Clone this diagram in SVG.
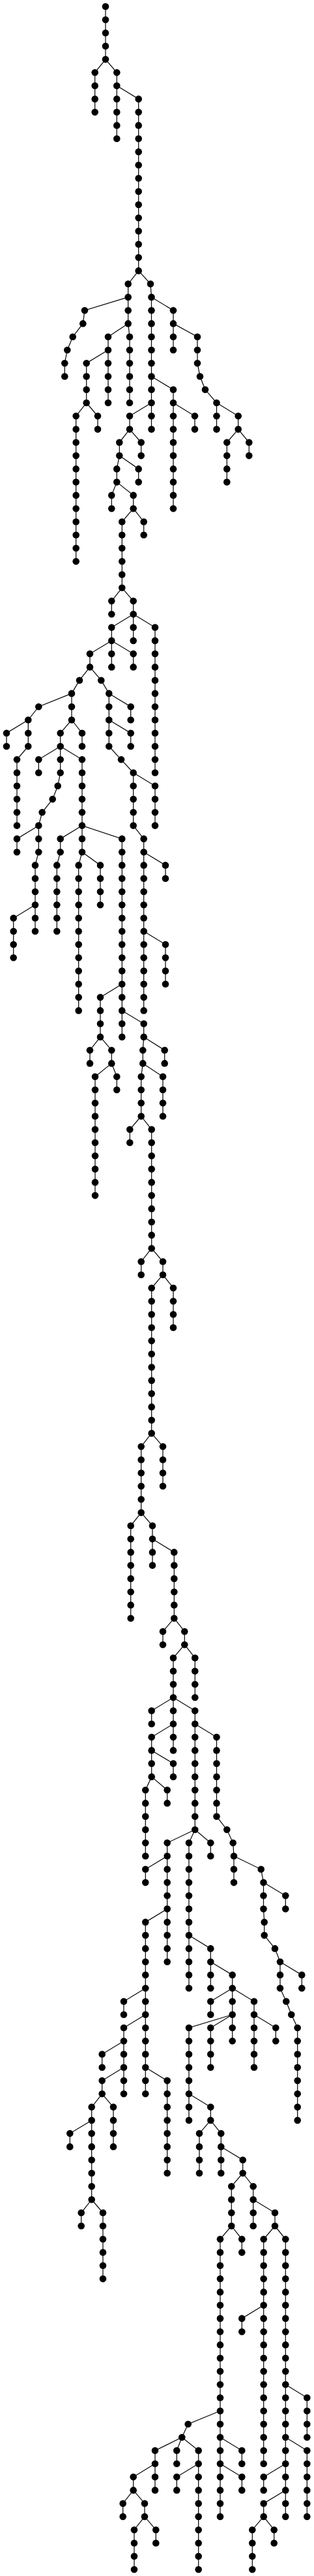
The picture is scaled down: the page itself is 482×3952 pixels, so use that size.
<svg xmlns="http://www.w3.org/2000/svg" width="482" height="3952" viewBox="0 0 482 3952">
<style>
.e polyline{fill:none;stroke:#000;stroke-width:1.2}
circle{fill:#000}
</style>
<rect width="482" height="3952" fill="#fff"/>
<g class="e" id="connectors">
<polyline points="162,10 162,91.1"/>
<polyline points="162,91.1 145.7,111.3 145.7,172.1"/>
<polyline points="162,91.1 179.3,111.3 179.3,131.6"/>
<polyline points="179.3,131.6 179.3,212.7"/>
<polyline points="179.3,131.6 212.7,151.9 212.7,415.4"/>
<polyline points="212.7,415.4 196.7,435.6 196.7,455.9"/>
<polyline points="196.7,455.9 130,476.2 127.3,496.4 111.7,516.7 103.3,537 99.3,557.2 99.3,577.5"/>
<polyline points="196.7,455.9 196.7,496.4"/>
<polyline points="196.7,496.4 166,516.7 166,537"/>
<polyline points="166,537 166,618"/>
<polyline points="166,537 132.7,557.2 132.7,618"/>
<polyline points="132.7,618 116.7,638.3 116.7,861.3"/>
<polyline points="132.7,618 150,638.3 150,658.6"/>
<polyline points="196.7,496.4 199,516.7 199,618"/>
<polyline points="212.7,415.4 231,435.6 232.5,455.9"/>
<polyline points="232.5,455.9 232.5,618"/>
<polyline points="232.5,618 199,638.3 199,658.6"/>
<polyline points="199,658.6 183.3,678.8 183.3,699.1"/>
<polyline points="183.3,699.1 179.3,719.4 179.3,739.6"/>
<polyline points="179.3,739.6 171.3,759.9 171.3,780.2"/>
<polyline points="179.3,739.6 204.7,759.9 204.7,780.2"/>
<polyline points="204.7,780.2 187.3,800.5 187.3,901.8"/>
<polyline points="187.3,901.8 171.3,922.1 171.3,942.3"/>
<polyline points="187.3,901.8 204.7,922.1 204.7,942.3"/>
<polyline points="204.7,942.3 171.3,962.6 171.3,982.9"/>
<polyline points="171.3,982.9 138,1003.1 138,1023.4"/>
<polyline points="138,1023.4 122,1043.7 110,1063.9"/>
<polyline points="110,1063.9 59.3,1084.2 43.3,1104.5"/>
<polyline points="43.3,1104.5 10,1124.7 10,1145"/>
<polyline points="43.3,1104.5 43.3,1145 26,1165.3 26,1266.6"/>
<polyline points="110,1063.9 110,1104.5"/>
<polyline points="110,1104.5 126,1124.7 126,1145"/>
<polyline points="110,1104.5 92.7,1124.7 92.7,1145"/>
<polyline points="92.7,1145 59.3,1165.3 59.3,1185.5"/>
<polyline points="92.7,1145 92.7,1185.5 88.7,1205.8 80.7,1226.1 64.7,1246.3 59.3,1266.6"/>
<polyline points="59.3,1266.6 26,1286.9 26,1307.2"/>
<polyline points="59.3,1266.6 59.3,1307.2 54,1327.4 54,1428.8"/>
<polyline points="54,1388.2 20.7,1408.5 20.7,1469.3"/>
<polyline points="92.7,1145 126,1165.3 126,1266.6"/>
<polyline points="126,1266.6 92.7,1286.9 92.7,1307.2 87.3,1327.4 87.3,1428.8"/>
<polyline points="126,1266.6 126,1307.2 120.7,1327.4 120.7,1550.4"/>
<polyline points="126,1307.2 154,1327.4 154,1388.2"/>
<polyline points="126,1266.6 187.3,1286.9 187.3,1509.8"/>
<polyline points="187.3,1509.8 154,1530.1 154,1590.9"/>
<polyline points="154,1590.9 138,1611.2 138,1631.4"/>
<polyline points="154,1590.9 171.3,1611.2 171.3,1631.4"/>
<polyline points="171.3,1631.4 146,1651.7 146,1834.1"/>
<polyline points="171.3,1631.4 179.3,1651.7 179.3,1672"/>
<polyline points="187.3,1509.8 187.3,1590.9"/>
<polyline points="187.3,1550.4 220.7,1570.6 220.7,1590.9"/>
<polyline points="220.7,1590.9 219.3,1611.2 219.3,1631.4"/>
<polyline points="219.3,1631.4 216.7,1651.7 216.7,1712.5"/>
<polyline points="216.7,1712.5 199.3,1732.8 199.3,1753"/>
<polyline points="216.7,1712.5 232.7,1732.8 232.7,1915.2"/>
<polyline points="232.7,1915.2 216.7,1935.5 216.7,1955.7"/>
<polyline points="232.7,1915.2 250,1935.5 250,1955.7"/>
<polyline points="250,1955.7 232.7,1976 232.7,2198.9"/>
<polyline points="232.7,2198.9 216.7,2219.2 216.7,2320.6"/>
<polyline points="232.7,2198.9 250,2219.2 250,2280"/>
<polyline points="250,1955.7 266,1976 266,2036.8"/>
<polyline points="219.3,1631.4 250,1651.7 250,1712.5"/>
<polyline points="220.7,1590.9 252.7,1611.2 252.7,1631.4"/>
<polyline points="138,1023.4 155.3,1043.7 167.3,1063.9"/>
<polyline points="167.3,1063.9 167.3,1145 186,1165.3 204.7,1185.5"/>
<polyline points="204.7,1185.5 204.7,1266.6 220.7,1286.9 220.7,1550.4"/>
<polyline points="220.7,1428.8 254,1449 254,1509.8"/>
<polyline points="220.7,1307.2 254,1327.4 254,1347.7"/>
<polyline points="204.7,1185.5 238,1205.8 238,1266.6"/>
<polyline points="167.3,1104.5 200.7,1124.7 200.7,1145"/>
<polyline points="167.3,1063.9 200.7,1084.2 200.7,1104.5"/>
<polyline points="171.3,982.9 171.3,1023.4"/>
<polyline points="171.3,982.9 204.7,1003.1 204.7,1023.4"/>
<polyline points="204.7,942.3 204.7,982.9"/>
<polyline points="204.7,942.3 238,962.6 238,1185.5"/>
<polyline points="204.7,780.2 220.7,800.5 220.7,820.7"/>
<polyline points="183.3,699.1 212.7,719.4 212.7,739.6"/>
<polyline points="199,658.6 216.7,678.8 216.7,699.1"/>
<polyline points="232.5,618 232.5,658.6"/>
<polyline points="232.5,577.5 266,597.8 266,780.2"/>
<polyline points="266,618 299,638.3 299,658.6"/>
<polyline points="232.5,455.9 266,476.2 266,537"/>
<polyline points="266,496.4 303,516.7 303,557.2 307,577.5 315,597.8 332.5,618 332.5,658.6"/>
<polyline points="332.5,618 365.7,638.3 365.7,658.6"/>
<polyline points="365.7,658.6 348.3,678.8 348.3,739.6"/>
<polyline points="365.7,658.6 382.3,678.8 382.3,699.1"/>
<polyline points="216.7,2320.6 200.7,2340.8 200.7,2482.7"/>
<polyline points="216.7,2320.6 234,2340.8 234,2401.6"/>
<polyline points="234,2361.1 267.3,2381.4 267.3,2482.7"/>
<polyline points="267.3,2482.7 250,2503 250,2523.2"/>
<polyline points="267.3,2482.7 283.3,2503 283.3,2523.2"/>
<polyline points="283.3,2523.2 299.3,2543.5 299.3,2604.3"/>
<polyline points="283.3,2523.2 266,2543.5 266,2685.4"/>
<polyline points="266,2604.3 232.7,2624.6 232.7,2644.8"/>
<polyline points="266,2644.8 232.7,2665.1 232.7,2725.9"/>
<polyline points="232.7,2685.4 266,2705.6 266,2725.9"/>
<polyline points="232.7,2725.9 223.3,2746.2 223.3,2847.5"/>
<polyline points="232.7,2725.9 256.7,2746.2 256.7,2766.4"/>
<polyline points="266,2604.3 299.3,2624.6 299.3,2807"/>
<polyline points="299.3,2807 256.7,2827.3 256.7,2928.6"/>
<polyline points="256.7,2847.5 223.3,2867.8 223.3,2888.1"/>
<polyline points="256.7,2928.6 223.3,2948.9 223.3,3212.3"/>
<polyline points="223.3,3050.2 190,3070.5 190,3090.7"/>
<polyline points="223.3,3090.7 190,3111 190,3212.3"/>
<polyline points="190,3131.3 156.7,3151.5 156.7,3171.8"/>
<polyline points="190,3171.8 156.7,3192.1 156.7,3212.3"/>
<polyline points="156.7,3212.3 140.7,3232.6 140.7,3374.5"/>
<polyline points="140.7,3252.9 107.3,3273.1 107.3,3293.4"/>
<polyline points="140.7,3374.5 124.7,3394.8 124.7,3415"/>
<polyline points="140.7,3374.5 158,3394.8 158,3496.1"/>
<polyline points="156.7,3212.3 174,3232.6 174,3293.4"/>
<polyline points="223.3,3171.8 256.7,3192.1 256.7,3334"/>
<polyline points="256.7,2928.6 256.7,3009.7"/>
<polyline points="299.3,2807 290,2827.3 290,3050.2"/>
<polyline points="290,2969.1 323.3,2989.4 323.3,3050.2"/>
<polyline points="323.3,3009.7 356.7,3029.9 356.7,3131.3"/>
<polyline points="356.7,3050.2 323.3,3070.5 323.3,3090.7"/>
<polyline points="356.7,3090.7 290,3111 290,3252.9"/>
<polyline points="290,3212.3 323.3,3232.6 323.3,3252.9"/>
<polyline points="323.3,3252.9 306,3273.1 306,3334"/>
<polyline points="323.3,3252.9 339.3,3273.1 339.3,3334"/>
<polyline points="339.3,3293.4 372.7,3313.7 372.7,3334"/>
<polyline points="372.7,3334 355.3,3354.2 355.3,3415 338,3435.3 338,3698.8"/>
<polyline points="338,3698.8 288.7,3719 279.3,3739.3"/>
<polyline points="279.3,3739.3 238,3759.6 238,3820.4"/>
<polyline points="238,3779.8 204.7,3800.1 204.7,3820.4"/>
<polyline points="204.7,3820.4 188.7,3840.7 188.7,3860.9"/>
<polyline points="204.7,3820.4 222,3840.7 222,3860.9"/>
<polyline points="222,3860.9 206,3881.2 206,3942"/>
<polyline points="222,3860.9 239.3,3881.2 239.3,3901.5"/>
<polyline points="279.3,3739.3 271.3,3759.6 271.3,3779.8"/>
<polyline points="279.3,3739.3 304.7,3759.6 304.7,3942"/>
<polyline points="304.7,3779.8 271.3,3800.1 271.3,3820.4"/>
<polyline points="338,3698.8 338,3860.9"/>
<polyline points="338,3739.3 371.3,3759.6 371.3,3779.8"/>
<polyline points="338,3779.8 371.3,3800.1 371.3,3820.4"/>
<polyline points="355.3,3415 371.3,3435.3 371.3,3455.6"/>
<polyline points="372.7,3334 388.7,3354.2 388.7,3415"/>
<polyline points="388.7,3374.5 422,3394.8 422,3415"/>
<polyline points="422,3415 404.7,3435.3 404.7,3779.8"/>
<polyline points="404.7,3536.6 371.3,3556.9 371.3,3577.2"/>
<polyline points="422,3415 438.3,3435.3 438.3,3860.9"/>
<polyline points="438.3,3658.2 471.3,3678.5 471.3,3739.3"/>
<polyline points="438.3,3739.3 471.3,3759.6 471.3,3860.9"/>
<polyline points="438.3,3779.8 404.7,3800.1 404.7,3820.4"/>
<polyline points="438.3,3820.4 404.7,3840.7 404.7,3860.9"/>
<polyline points="404.7,3860.9 387.3,3881.2 387.3,3942"/>
<polyline points="404.7,3860.9 420.7,3881.2 420.7,3901.5"/>
<polyline points="356.7,3090.7 323.3,3111 323.3,3171.8"/>
<polyline points="356.7,3050.2 390,3070.5 390,3171.8"/>
<polyline points="390,3090.7 423.3,3111 423.3,3131.3"/>
<polyline points="299.3,2807 323.3,2827.3 323.3,2847.5"/>
<polyline points="299.3,2644.8 332.5,2665.1 332.5,2786.7 348.3,2807 357.7,2827.3 359,2847.5 359,2888.1"/>
<polyline points="359,2847.5 400.7,2867.8 404.5,2888.1"/>
<polyline points="404.5,2888.1 438.3,2908.3 438.3,2928.6"/>
<polyline points="404.5,2888.1 404.5,2928.6 405.7,2948.9 405.7,2969.1 422,2989.4 430,3009.7"/>
<polyline points="430,3009.7 463.3,3029.9 463.3,3050.2"/>
<polyline points="430,3009.7 430,3050.2 439.3,3070.5 447.3,3090.7 456.7,3111 456.7,3252.9"/>
</g>
<g id="nodes">
<g id="n1"><circle cx="162" cy="10" r="5.3"/></g>
<g id="n2"><circle cx="162" cy="30.3" r="5.3"/></g>
<g id="n3"><circle cx="162" cy="50.5" r="5.3"/></g>
<g id="n4"><circle cx="162" cy="70.8" r="5.3"/></g>
<g id="n5"><circle cx="162" cy="91.1" r="5.3"/></g>
<g id="n6"><circle cx="145.7" cy="111.3" r="5.3"/></g>
<g id="n7"><circle cx="145.7" cy="131.6" r="5.3"/></g>
<g id="n8"><circle cx="145.7" cy="151.9" r="5.3"/></g>
<g id="n9"><circle cx="145.7" cy="172.1" r="5.3"/></g>
<g id="n10"><circle cx="179.3" cy="111.3" r="5.3"/></g>
<g id="n11"><circle cx="179.3" cy="131.6" r="5.3"/></g>
<g id="n12"><circle cx="179.3" cy="151.9" r="5.3"/></g>
<g id="n13"><circle cx="179.3" cy="172.1" r="5.3"/></g>
<g id="n14"><circle cx="179.3" cy="192.4" r="5.3"/></g>
<g id="n15"><circle cx="179.3" cy="212.7" r="5.3"/></g>
<g id="n16"><circle cx="212.7" cy="151.9" r="5.3"/></g>
<g id="n17"><circle cx="212.7" cy="172.1" r="5.3"/></g>
<g id="n18"><circle cx="212.7" cy="192.4" r="5.3"/></g>
<g id="n19"><circle cx="212.7" cy="212.7" r="5.3"/></g>
<g id="n20"><circle cx="212.7" cy="232.9" r="5.3"/></g>
<g id="n21"><circle cx="212.7" cy="253.2" r="5.3"/></g>
<g id="n22"><circle cx="212.7" cy="273.5" r="5.3"/></g>
<g id="n23"><circle cx="212.7" cy="293.8" r="5.3"/></g>
<g id="n24"><circle cx="212.7" cy="314" r="5.3"/></g>
<g id="n25"><circle cx="212.7" cy="334.3" r="5.3"/></g>
<g id="n26"><circle cx="212.7" cy="354.6" r="5.3"/></g>
<g id="n27"><circle cx="212.7" cy="374.8" r="5.3"/></g>
<g id="n28"><circle cx="212.7" cy="395.1" r="5.3"/></g>
<g id="n29"><circle cx="212.7" cy="415.4" r="5.3"/></g>
<g id="n30"><circle cx="196.7" cy="435.6" r="5.3"/></g>
<g id="n31"><circle cx="196.7" cy="455.9" r="5.3"/></g>
<g id="n32"><circle cx="130" cy="476.2" r="5.3"/></g>
<g id="n33"><circle cx="127.3" cy="496.4" r="5.3"/></g>
<g id="n34"><circle cx="111.7" cy="516.7" r="5.3"/></g>
<g id="n35"><circle cx="103.3" cy="537" r="5.3"/></g>
<g id="n36"><circle cx="99.3" cy="557.2" r="5.3"/></g>
<g id="n37"><circle cx="99.3" cy="577.5" r="5.3"/></g>
<g id="n38"><circle cx="196.7" cy="476.2" r="5.3"/></g>
<g id="n39"><circle cx="196.7" cy="496.4" r="5.3"/></g>
<g id="n40"><circle cx="166" cy="516.7" r="5.3"/></g>
<g id="n41"><circle cx="166" cy="537" r="5.3"/></g>
<g id="n42"><circle cx="166" cy="557.2" r="5.3"/></g>
<g id="n43"><circle cx="166" cy="577.5" r="5.3"/></g>
<g id="n44"><circle cx="166" cy="597.8" r="5.3"/></g>
<g id="n45"><circle cx="166" cy="618" r="5.3"/></g>
<g id="n46"><circle cx="132.7" cy="557.2" r="5.3"/></g>
<g id="n47"><circle cx="132.7" cy="577.5" r="5.3"/></g>
<g id="n48"><circle cx="132.7" cy="597.8" r="5.3"/></g>
<g id="n49"><circle cx="132.7" cy="618" r="5.3"/></g>
<g id="n50"><circle cx="116.7" cy="638.3" r="5.3"/></g>
<g id="n51"><circle cx="116.7" cy="658.6" r="5.3"/></g>
<g id="n52"><circle cx="116.7" cy="678.8" r="5.3"/></g>
<g id="n53"><circle cx="116.7" cy="699.1" r="5.3"/></g>
<g id="n54"><circle cx="116.7" cy="719.4" r="5.3"/></g>
<g id="n55"><circle cx="116.7" cy="739.6" r="5.3"/></g>
<g id="n56"><circle cx="116.7" cy="759.9" r="5.3"/></g>
<g id="n57"><circle cx="116.7" cy="780.2" r="5.3"/></g>
<g id="n58"><circle cx="116.7" cy="800.5" r="5.3"/></g>
<g id="n59"><circle cx="116.7" cy="820.7" r="5.3"/></g>
<g id="n60"><circle cx="116.7" cy="841" r="5.3"/></g>
<g id="n61"><circle cx="116.7" cy="861.3" r="5.3"/></g>
<g id="n62"><circle cx="150" cy="638.3" r="5.3"/></g>
<g id="n63"><circle cx="150" cy="658.6" r="5.3"/></g>
<g id="n64"><circle cx="199" cy="516.7" r="5.3"/></g>
<g id="n65"><circle cx="199" cy="537" r="5.3"/></g>
<g id="n66"><circle cx="199" cy="557.2" r="5.3"/></g>
<g id="n67"><circle cx="199" cy="577.5" r="5.3"/></g>
<g id="n68"><circle cx="199" cy="597.8" r="5.3"/></g>
<g id="n69"><circle cx="199" cy="618" r="5.3"/></g>
<g id="n70"><circle cx="231" cy="435.6" r="5.3"/></g>
<g id="n71"><circle cx="232.5" cy="455.9" r="5.3"/></g>
<g id="n72"><circle cx="232.5" cy="476.2" r="5.3"/></g>
<g id="n73"><circle cx="232.5" cy="496.4" r="5.3"/></g>
<g id="n74"><circle cx="232.5" cy="516.7" r="5.3"/></g>
<g id="n75"><circle cx="232.5" cy="537" r="5.3"/></g>
<g id="n76"><circle cx="232.5" cy="557.2" r="5.3"/></g>
<g id="n77"><circle cx="232.5" cy="577.5" r="5.3"/></g>
<g id="n78"><circle cx="232.5" cy="597.8" r="5.3"/></g>
<g id="n79"><circle cx="232.5" cy="618" r="5.3"/></g>
<g id="n80"><circle cx="199" cy="638.3" r="5.3"/></g>
<g id="n81"><circle cx="199" cy="658.6" r="5.3"/></g>
<g id="n82"><circle cx="183.3" cy="678.8" r="5.3"/></g>
<g id="n83"><circle cx="183.3" cy="699.1" r="5.3"/></g>
<g id="n84"><circle cx="179.3" cy="719.4" r="5.3"/></g>
<g id="n85"><circle cx="179.3" cy="739.6" r="5.3"/></g>
<g id="n86"><circle cx="171.3" cy="759.9" r="5.3"/></g>
<g id="n87"><circle cx="171.3" cy="780.2" r="5.3"/></g>
<g id="n88"><circle cx="204.7" cy="759.9" r="5.3"/></g>
<g id="n89"><circle cx="204.7" cy="780.2" r="5.3"/></g>
<g id="n90"><circle cx="187.3" cy="800.5" r="5.3"/></g>
<g id="n91"><circle cx="187.3" cy="820.7" r="5.3"/></g>
<g id="n92"><circle cx="187.3" cy="841" r="5.3"/></g>
<g id="n93"><circle cx="187.3" cy="861.3" r="5.3"/></g>
<g id="n94"><circle cx="187.3" cy="881.5" r="5.3"/></g>
<g id="n95"><circle cx="187.3" cy="901.8" r="5.3"/></g>
<g id="n96"><circle cx="171.3" cy="922.1" r="5.3"/></g>
<g id="n97"><circle cx="171.3" cy="942.3" r="5.3"/></g>
<g id="n98"><circle cx="204.7" cy="922.1" r="5.3"/></g>
<g id="n99"><circle cx="204.7" cy="942.3" r="5.3"/></g>
<g id="n100"><circle cx="171.3" cy="962.6" r="5.3"/></g>
<g id="n101"><circle cx="171.3" cy="982.9" r="5.3"/></g>
<g id="n102"><circle cx="138" cy="1003.1" r="5.3"/></g>
<g id="n103"><circle cx="138" cy="1023.4" r="5.3"/></g>
<g id="n104"><circle cx="122" cy="1043.7" r="5.3"/></g>
<g id="n105"><circle cx="110" cy="1063.9" r="5.3"/></g>
<g id="n106"><circle cx="59.3" cy="1084.2" r="5.3"/></g>
<g id="n107"><circle cx="43.3" cy="1104.5" r="5.3"/></g>
<g id="n108"><circle cx="10" cy="1124.7" r="5.3"/></g>
<g id="n109"><circle cx="10" cy="1145" r="5.3"/></g>
<g id="n110"><circle cx="43.3" cy="1124.7" r="5.3"/></g>
<g id="n111"><circle cx="43.3" cy="1145" r="5.3"/></g>
<g id="n112"><circle cx="26" cy="1165.3" r="5.3"/></g>
<g id="n113"><circle cx="26" cy="1185.5" r="5.3"/></g>
<g id="n114"><circle cx="26" cy="1205.8" r="5.3"/></g>
<g id="n115"><circle cx="26" cy="1226.1" r="5.3"/></g>
<g id="n116"><circle cx="26" cy="1246.3" r="5.3"/></g>
<g id="n117"><circle cx="26" cy="1266.6" r="5.3"/></g>
<g id="n118"><circle cx="110" cy="1084.2" r="5.3"/></g>
<g id="n119"><circle cx="110" cy="1104.5" r="5.3"/></g>
<g id="n120"><circle cx="126" cy="1124.7" r="5.3"/></g>
<g id="n121"><circle cx="126" cy="1145" r="5.3"/></g>
<g id="n122"><circle cx="92.7" cy="1124.7" r="5.3"/></g>
<g id="n123"><circle cx="92.7" cy="1145" r="5.3"/></g>
<g id="n124"><circle cx="59.3" cy="1165.3" r="5.3"/></g>
<g id="n125"><circle cx="59.3" cy="1185.5" r="5.3"/></g>
<g id="n126"><circle cx="92.7" cy="1165.3" r="5.3"/></g>
<g id="n127"><circle cx="92.7" cy="1185.5" r="5.3"/></g>
<g id="n128"><circle cx="88.7" cy="1205.8" r="5.3"/></g>
<g id="n129"><circle cx="80.7" cy="1226.1" r="5.3"/></g>
<g id="n130"><circle cx="64.7" cy="1246.3" r="5.3"/></g>
<g id="n131"><circle cx="59.3" cy="1266.6" r="5.3"/></g>
<g id="n132"><circle cx="26" cy="1286.9" r="5.3"/></g>
<g id="n133"><circle cx="26" cy="1307.2" r="5.3"/></g>
<g id="n134"><circle cx="59.3" cy="1286.9" r="5.3"/></g>
<g id="n135"><circle cx="59.3" cy="1307.2" r="5.3"/></g>
<g id="n136"><circle cx="54" cy="1327.4" r="5.3"/></g>
<g id="n137"><circle cx="54" cy="1347.7" r="5.3"/></g>
<g id="n138"><circle cx="54" cy="1368" r="5.3"/></g>
<g id="n139"><circle cx="54" cy="1388.2" r="5.3"/></g>
<g id="n140"><circle cx="54" cy="1408.5" r="5.3"/></g>
<g id="n141"><circle cx="54" cy="1428.8" r="5.3"/></g>
<g id="n142"><circle cx="20.7" cy="1408.5" r="5.3"/></g>
<g id="n143"><circle cx="20.7" cy="1428.8" r="5.3"/></g>
<g id="n144"><circle cx="20.7" cy="1449" r="5.3"/></g>
<g id="n145"><circle cx="20.7" cy="1469.3" r="5.3"/></g>
<g id="n146"><circle cx="126" cy="1165.3" r="5.3"/></g>
<g id="n147"><circle cx="126" cy="1185.5" r="5.3"/></g>
<g id="n148"><circle cx="126" cy="1205.8" r="5.3"/></g>
<g id="n149"><circle cx="126" cy="1226.1" r="5.3"/></g>
<g id="n150"><circle cx="126" cy="1246.3" r="5.3"/></g>
<g id="n151"><circle cx="126" cy="1266.6" r="5.3"/></g>
<g id="n152"><circle cx="92.7" cy="1286.9" r="5.3"/></g>
<g id="n153"><circle cx="92.7" cy="1307.2" r="5.3"/></g>
<g id="n154"><circle cx="87.3" cy="1327.4" r="5.3"/></g>
<g id="n155"><circle cx="87.3" cy="1347.7" r="5.3"/></g>
<g id="n156"><circle cx="87.3" cy="1368" r="5.3"/></g>
<g id="n157"><circle cx="87.3" cy="1388.2" r="5.3"/></g>
<g id="n158"><circle cx="87.3" cy="1408.5" r="5.3"/></g>
<g id="n159"><circle cx="87.3" cy="1428.8" r="5.3"/></g>
<g id="n160"><circle cx="126" cy="1286.9" r="5.3"/></g>
<g id="n161"><circle cx="126" cy="1307.2" r="5.3"/></g>
<g id="n162"><circle cx="120.7" cy="1327.4" r="5.3"/></g>
<g id="n163"><circle cx="120.7" cy="1347.7" r="5.3"/></g>
<g id="n164"><circle cx="120.7" cy="1368" r="5.3"/></g>
<g id="n165"><circle cx="120.7" cy="1388.2" r="5.3"/></g>
<g id="n166"><circle cx="120.7" cy="1408.5" r="5.3"/></g>
<g id="n167"><circle cx="120.7" cy="1428.8" r="5.3"/></g>
<g id="n168"><circle cx="120.7" cy="1449" r="5.3"/></g>
<g id="n169"><circle cx="120.7" cy="1469.3" r="5.3"/></g>
<g id="n170"><circle cx="120.7" cy="1489.6" r="5.3"/></g>
<g id="n171"><circle cx="120.7" cy="1509.8" r="5.3"/></g>
<g id="n172"><circle cx="120.7" cy="1530.1" r="5.3"/></g>
<g id="n173"><circle cx="120.7" cy="1550.4" r="5.3"/></g>
<g id="n174"><circle cx="154" cy="1327.4" r="5.3"/></g>
<g id="n175"><circle cx="154" cy="1347.7" r="5.3"/></g>
<g id="n176"><circle cx="154" cy="1368" r="5.3"/></g>
<g id="n177"><circle cx="154" cy="1388.2" r="5.3"/></g>
<g id="n178"><circle cx="187.3" cy="1286.9" r="5.3"/></g>
<g id="n179"><circle cx="187.3" cy="1307.2" r="5.3"/></g>
<g id="n180"><circle cx="187.3" cy="1327.4" r="5.3"/></g>
<g id="n181"><circle cx="187.3" cy="1347.7" r="5.3"/></g>
<g id="n182"><circle cx="187.3" cy="1368" r="5.3"/></g>
<g id="n183"><circle cx="187.3" cy="1388.2" r="5.3"/></g>
<g id="n184"><circle cx="187.3" cy="1408.5" r="5.3"/></g>
<g id="n185"><circle cx="187.3" cy="1428.8" r="5.3"/></g>
<g id="n186"><circle cx="187.3" cy="1449" r="5.3"/></g>
<g id="n187"><circle cx="187.3" cy="1469.3" r="5.3"/></g>
<g id="n188"><circle cx="187.3" cy="1489.6" r="5.3"/></g>
<g id="n189"><circle cx="187.3" cy="1509.8" r="5.3"/></g>
<g id="n190"><circle cx="154" cy="1530.1" r="5.3"/></g>
<g id="n191"><circle cx="154" cy="1550.4" r="5.3"/></g>
<g id="n192"><circle cx="154" cy="1570.6" r="5.3"/></g>
<g id="n193"><circle cx="154" cy="1590.9" r="5.3"/></g>
<g id="n194"><circle cx="138" cy="1611.2" r="5.3"/></g>
<g id="n195"><circle cx="138" cy="1631.4" r="5.3"/></g>
<g id="n196"><circle cx="171.3" cy="1611.2" r="5.3"/></g>
<g id="n197"><circle cx="171.3" cy="1631.4" r="5.3"/></g>
<g id="n198"><circle cx="146" cy="1651.7" r="5.3"/></g>
<g id="n199"><circle cx="146" cy="1672" r="5.3"/></g>
<g id="n200"><circle cx="146" cy="1692.2" r="5.3"/></g>
<g id="n201"><circle cx="146" cy="1712.5" r="5.3"/></g>
<g id="n202"><circle cx="146" cy="1732.8" r="5.3"/></g>
<g id="n203"><circle cx="146" cy="1753" r="5.3"/></g>
<g id="n204"><circle cx="146" cy="1773.3" r="5.3"/></g>
<g id="n205"><circle cx="146" cy="1793.6" r="5.3"/></g>
<g id="n206"><circle cx="146" cy="1813.9" r="5.3"/></g>
<g id="n207"><circle cx="146" cy="1834.1" r="5.3"/></g>
<g id="n208"><circle cx="179.3" cy="1651.7" r="5.3"/></g>
<g id="n209"><circle cx="179.3" cy="1672" r="5.3"/></g>
<g id="n210"><circle cx="187.3" cy="1530.1" r="5.3"/></g>
<g id="n211"><circle cx="187.3" cy="1550.4" r="5.3"/></g>
<g id="n212"><circle cx="187.3" cy="1570.6" r="5.3"/></g>
<g id="n213"><circle cx="187.3" cy="1590.9" r="5.3"/></g>
<g id="n214"><circle cx="220.7" cy="1570.6" r="5.3"/></g>
<g id="n215"><circle cx="220.7" cy="1590.9" r="5.3"/></g>
<g id="n216"><circle cx="219.3" cy="1611.2" r="5.3"/></g>
<g id="n217"><circle cx="219.3" cy="1631.4" r="5.3"/></g>
<g id="n218"><circle cx="216.7" cy="1651.7" r="5.3"/></g>
<g id="n219"><circle cx="216.7" cy="1672" r="5.3"/></g>
<g id="n220"><circle cx="216.7" cy="1692.2" r="5.3"/></g>
<g id="n221"><circle cx="216.7" cy="1712.5" r="5.3"/></g>
<g id="n222"><circle cx="199.3" cy="1732.8" r="5.3"/></g>
<g id="n223"><circle cx="199.3" cy="1753" r="5.3"/></g>
<g id="n224"><circle cx="232.7" cy="1732.8" r="5.3"/></g>
<g id="n225"><circle cx="232.7" cy="1753" r="5.3"/></g>
<g id="n226"><circle cx="232.7" cy="1773.3" r="5.3"/></g>
<g id="n227"><circle cx="232.7" cy="1793.6" r="5.3"/></g>
<g id="n228"><circle cx="232.7" cy="1813.9" r="5.3"/></g>
<g id="n229"><circle cx="232.7" cy="1834.1" r="5.3"/></g>
<g id="n230"><circle cx="232.7" cy="1854.4" r="5.3"/></g>
<g id="n231"><circle cx="232.7" cy="1874.7" r="5.3"/></g>
<g id="n232"><circle cx="232.7" cy="1894.9" r="5.3"/></g>
<g id="n233"><circle cx="232.7" cy="1915.2" r="5.3"/></g>
<g id="n234"><circle cx="216.7" cy="1935.5" r="5.3"/></g>
<g id="n235"><circle cx="216.7" cy="1955.7" r="5.3"/></g>
<g id="n236"><circle cx="250" cy="1935.5" r="5.3"/></g>
<g id="n237"><circle cx="250" cy="1955.7" r="5.3"/></g>
<g id="n238"><circle cx="232.7" cy="1976" r="5.3"/></g>
<g id="n239"><circle cx="232.7" cy="1996.3" r="5.3"/></g>
<g id="n240"><circle cx="232.7" cy="2016.5" r="5.3"/></g>
<g id="n241"><circle cx="232.7" cy="2036.8" r="5.3"/></g>
<g id="n242"><circle cx="232.7" cy="2057.1" r="5.3"/></g>
<g id="n243"><circle cx="232.7" cy="2077.3" r="5.3"/></g>
<g id="n244"><circle cx="232.7" cy="2097.6" r="5.3"/></g>
<g id="n245"><circle cx="232.7" cy="2117.9" r="5.3"/></g>
<g id="n246"><circle cx="232.7" cy="2138.1" r="5.3"/></g>
<g id="n247"><circle cx="232.7" cy="2158.4" r="5.3"/></g>
<g id="n248"><circle cx="232.7" cy="2178.7" r="5.3"/></g>
<g id="n249"><circle cx="232.7" cy="2198.9" r="5.3"/></g>
<g id="n250"><circle cx="216.7" cy="2219.2" r="5.3"/></g>
<g id="n251"><circle cx="216.7" cy="2239.5" r="5.3"/></g>
<g id="n252"><circle cx="216.7" cy="2259.7" r="5.3"/></g>
<g id="n253"><circle cx="216.7" cy="2280" r="5.3"/></g>
<g id="n254"><circle cx="216.7" cy="2300.3" r="5.3"/></g>
<g id="n255"><circle cx="216.7" cy="2320.6" r="5.3"/></g>
<g id="n256"><circle cx="250" cy="2219.2" r="5.3"/></g>
<g id="n257"><circle cx="250" cy="2239.5" r="5.3"/></g>
<g id="n258"><circle cx="250" cy="2259.7" r="5.3"/></g>
<g id="n259"><circle cx="250" cy="2280" r="5.3"/></g>
<g id="n260"><circle cx="266" cy="1976" r="5.3"/></g>
<g id="n261"><circle cx="266" cy="1996.3" r="5.3"/></g>
<g id="n262"><circle cx="266" cy="2016.5" r="5.3"/></g>
<g id="n263"><circle cx="266" cy="2036.8" r="5.3"/></g>
<g id="n264"><circle cx="250" cy="1651.7" r="5.3"/></g>
<g id="n265"><circle cx="250" cy="1672" r="5.3"/></g>
<g id="n266"><circle cx="250" cy="1692.2" r="5.3"/></g>
<g id="n267"><circle cx="250" cy="1712.5" r="5.3"/></g>
<g id="n268"><circle cx="252.7" cy="1611.2" r="5.3"/></g>
<g id="n269"><circle cx="252.7" cy="1631.4" r="5.3"/></g>
<g id="n270"><circle cx="155.3" cy="1043.7" r="5.3"/></g>
<g id="n271"><circle cx="167.3" cy="1063.9" r="5.3"/></g>
<g id="n272"><circle cx="167.3" cy="1084.2" r="5.3"/></g>
<g id="n273"><circle cx="167.3" cy="1104.5" r="5.3"/></g>
<g id="n274"><circle cx="167.3" cy="1124.7" r="5.3"/></g>
<g id="n275"><circle cx="167.3" cy="1145" r="5.3"/></g>
<g id="n276"><circle cx="186" cy="1165.3" r="5.3"/></g>
<g id="n277"><circle cx="204.7" cy="1185.5" r="5.3"/></g>
<g id="n278"><circle cx="204.7" cy="1205.8" r="5.3"/></g>
<g id="n279"><circle cx="204.7" cy="1226.1" r="5.3"/></g>
<g id="n280"><circle cx="204.7" cy="1246.3" r="5.3"/></g>
<g id="n281"><circle cx="204.7" cy="1266.6" r="5.3"/></g>
<g id="n282"><circle cx="220.7" cy="1286.9" r="5.3"/></g>
<g id="n283"><circle cx="220.7" cy="1307.2" r="5.3"/></g>
<g id="n284"><circle cx="220.7" cy="1327.4" r="5.3"/></g>
<g id="n285"><circle cx="220.7" cy="1347.7" r="5.3"/></g>
<g id="n286"><circle cx="220.7" cy="1368" r="5.3"/></g>
<g id="n287"><circle cx="220.7" cy="1388.2" r="5.3"/></g>
<g id="n288"><circle cx="220.7" cy="1408.5" r="5.3"/></g>
<g id="n289"><circle cx="220.7" cy="1428.8" r="5.3"/></g>
<g id="n290"><circle cx="220.7" cy="1449" r="5.3"/></g>
<g id="n291"><circle cx="220.7" cy="1469.3" r="5.3"/></g>
<g id="n292"><circle cx="220.7" cy="1489.6" r="5.3"/></g>
<g id="n293"><circle cx="220.7" cy="1509.8" r="5.3"/></g>
<g id="n294"><circle cx="220.7" cy="1530.1" r="5.3"/></g>
<g id="n295"><circle cx="220.7" cy="1550.4" r="5.3"/></g>
<g id="n296"><circle cx="254" cy="1449" r="5.3"/></g>
<g id="n297"><circle cx="254" cy="1469.3" r="5.3"/></g>
<g id="n298"><circle cx="254" cy="1489.6" r="5.3"/></g>
<g id="n299"><circle cx="254" cy="1509.8" r="5.3"/></g>
<g id="n300"><circle cx="254" cy="1327.4" r="5.3"/></g>
<g id="n301"><circle cx="254" cy="1347.7" r="5.3"/></g>
<g id="n302"><circle cx="238" cy="1205.8" r="5.3"/></g>
<g id="n303"><circle cx="238" cy="1226.1" r="5.3"/></g>
<g id="n304"><circle cx="238" cy="1246.3" r="5.3"/></g>
<g id="n305"><circle cx="238" cy="1266.6" r="5.3"/></g>
<g id="n306"><circle cx="200.7" cy="1124.7" r="5.3"/></g>
<g id="n307"><circle cx="200.7" cy="1145" r="5.3"/></g>
<g id="n308"><circle cx="200.7" cy="1084.2" r="5.3"/></g>
<g id="n309"><circle cx="200.7" cy="1104.5" r="5.3"/></g>
<g id="n310"><circle cx="171.3" cy="1003.1" r="5.3"/></g>
<g id="n311"><circle cx="171.3" cy="1023.4" r="5.3"/></g>
<g id="n312"><circle cx="204.7" cy="1003.1" r="5.3"/></g>
<g id="n313"><circle cx="204.7" cy="1023.4" r="5.3"/></g>
<g id="n314"><circle cx="204.7" cy="962.6" r="5.3"/></g>
<g id="n315"><circle cx="204.7" cy="982.9" r="5.3"/></g>
<g id="n316"><circle cx="238" cy="962.6" r="5.3"/></g>
<g id="n317"><circle cx="238" cy="982.9" r="5.3"/></g>
<g id="n318"><circle cx="238" cy="1003.1" r="5.3"/></g>
<g id="n319"><circle cx="238" cy="1023.4" r="5.3"/></g>
<g id="n320"><circle cx="238" cy="1043.7" r="5.3"/></g>
<g id="n321"><circle cx="238" cy="1063.9" r="5.3"/></g>
<g id="n322"><circle cx="238" cy="1084.2" r="5.3"/></g>
<g id="n323"><circle cx="238" cy="1104.5" r="5.3"/></g>
<g id="n324"><circle cx="238" cy="1124.7" r="5.3"/></g>
<g id="n325"><circle cx="238" cy="1145" r="5.3"/></g>
<g id="n326"><circle cx="238" cy="1165.3" r="5.3"/></g>
<g id="n327"><circle cx="238" cy="1185.5" r="5.3"/></g>
<g id="n328"><circle cx="220.7" cy="800.5" r="5.3"/></g>
<g id="n329"><circle cx="220.7" cy="820.7" r="5.3"/></g>
<g id="n330"><circle cx="212.7" cy="719.4" r="5.3"/></g>
<g id="n331"><circle cx="212.7" cy="739.6" r="5.3"/></g>
<g id="n332"><circle cx="216.7" cy="678.8" r="5.3"/></g>
<g id="n333"><circle cx="216.7" cy="699.1" r="5.3"/></g>
<g id="n334"><circle cx="232.5" cy="638.3" r="5.3"/></g>
<g id="n335"><circle cx="232.5" cy="658.6" r="5.3"/></g>
<g id="n336"><circle cx="266" cy="597.8" r="5.3"/></g>
<g id="n337"><circle cx="266" cy="618" r="5.3"/></g>
<g id="n338"><circle cx="266" cy="638.3" r="5.3"/></g>
<g id="n339"><circle cx="266" cy="658.6" r="5.3"/></g>
<g id="n340"><circle cx="266" cy="678.8" r="5.3"/></g>
<g id="n341"><circle cx="266" cy="699.1" r="5.3"/></g>
<g id="n342"><circle cx="266" cy="719.4" r="5.3"/></g>
<g id="n343"><circle cx="266" cy="739.6" r="5.3"/></g>
<g id="n344"><circle cx="266" cy="759.9" r="5.3"/></g>
<g id="n345"><circle cx="266" cy="780.2" r="5.3"/></g>
<g id="n346"><circle cx="299" cy="638.3" r="5.3"/></g>
<g id="n347"><circle cx="299" cy="658.6" r="5.3"/></g>
<g id="n348"><circle cx="266" cy="476.2" r="5.3"/></g>
<g id="n349"><circle cx="266" cy="496.4" r="5.3"/></g>
<g id="n350"><circle cx="266" cy="516.7" r="5.3"/></g>
<g id="n351"><circle cx="266" cy="537" r="5.3"/></g>
<g id="n352"><circle cx="303" cy="516.7" r="5.3"/></g>
<g id="n353"><circle cx="303" cy="537" r="5.3"/></g>
<g id="n354"><circle cx="303" cy="557.2" r="5.3"/></g>
<g id="n355"><circle cx="307" cy="577.5" r="5.3"/></g>
<g id="n356"><circle cx="315" cy="597.8" r="5.3"/></g>
<g id="n357"><circle cx="332.5" cy="618" r="5.3"/></g>
<g id="n358"><circle cx="332.5" cy="638.3" r="5.3"/></g>
<g id="n359"><circle cx="332.5" cy="658.6" r="5.3"/></g>
<g id="n360"><circle cx="365.7" cy="638.3" r="5.3"/></g>
<g id="n361"><circle cx="365.7" cy="658.6" r="5.3"/></g>
<g id="n362"><circle cx="348.3" cy="678.8" r="5.3"/></g>
<g id="n363"><circle cx="348.3" cy="699.1" r="5.3"/></g>
<g id="n364"><circle cx="348.3" cy="719.4" r="5.3"/></g>
<g id="n365"><circle cx="348.3" cy="739.6" r="5.3"/></g>
<g id="n366"><circle cx="382.3" cy="678.8" r="5.3"/></g>
<g id="n367"><circle cx="382.3" cy="699.1" r="5.3"/></g>
<g id="n368"><circle cx="200.7" cy="2340.8" r="5.3"/></g>
<g id="n369"><circle cx="200.7" cy="2361.1" r="5.3"/></g>
<g id="n370"><circle cx="200.7" cy="2381.4" r="5.3"/></g>
<g id="n371"><circle cx="200.7" cy="2401.6" r="5.3"/></g>
<g id="n372"><circle cx="200.7" cy="2421.9" r="5.3"/></g>
<g id="n373"><circle cx="200.7" cy="2442.2" r="5.3"/></g>
<g id="n374"><circle cx="200.7" cy="2462.4" r="5.3"/></g>
<g id="n375"><circle cx="200.7" cy="2482.7" r="5.3"/></g>
<g id="n376"><circle cx="234" cy="2340.8" r="5.3"/></g>
<g id="n377"><circle cx="234" cy="2361.1" r="5.3"/></g>
<g id="n378"><circle cx="234" cy="2381.4" r="5.3"/></g>
<g id="n379"><circle cx="234" cy="2401.6" r="5.3"/></g>
<g id="n380"><circle cx="267.3" cy="2381.4" r="5.3"/></g>
<g id="n381"><circle cx="267.3" cy="2401.6" r="5.3"/></g>
<g id="n382"><circle cx="267.3" cy="2421.9" r="5.3"/></g>
<g id="n383"><circle cx="267.3" cy="2442.2" r="5.3"/></g>
<g id="n384"><circle cx="267.3" cy="2462.4" r="5.3"/></g>
<g id="n385"><circle cx="267.3" cy="2482.7" r="5.3"/></g>
<g id="n386"><circle cx="250" cy="2503" r="5.3"/></g>
<g id="n387"><circle cx="250" cy="2523.2" r="5.3"/></g>
<g id="n388"><circle cx="283.3" cy="2503" r="5.3"/></g>
<g id="n389"><circle cx="283.3" cy="2523.2" r="5.3"/></g>
<g id="n390"><circle cx="299.3" cy="2543.5" r="5.3"/></g>
<g id="n391"><circle cx="299.3" cy="2563.8" r="5.3"/></g>
<g id="n392"><circle cx="299.3" cy="2584" r="5.3"/></g>
<g id="n393"><circle cx="299.3" cy="2604.3" r="5.3"/></g>
<g id="n394"><circle cx="266" cy="2543.5" r="5.3"/></g>
<g id="n395"><circle cx="266" cy="2563.8" r="5.3"/></g>
<g id="n396"><circle cx="266" cy="2584" r="5.3"/></g>
<g id="n397"><circle cx="266" cy="2604.3" r="5.3"/></g>
<g id="n398"><circle cx="232.7" cy="2624.6" r="5.3"/></g>
<g id="n399"><circle cx="232.7" cy="2644.8" r="5.3"/></g>
<g id="n400"><circle cx="266" cy="2624.6" r="5.3"/></g>
<g id="n401"><circle cx="266" cy="2644.8" r="5.3"/></g>
<g id="n402"><circle cx="266" cy="2665.1" r="5.3"/></g>
<g id="n403"><circle cx="266" cy="2685.4" r="5.3"/></g>
<g id="n404"><circle cx="232.7" cy="2665.1" r="5.3"/></g>
<g id="n405"><circle cx="232.7" cy="2685.4" r="5.3"/></g>
<g id="n406"><circle cx="266" cy="2705.6" r="5.3"/></g>
<g id="n407"><circle cx="266" cy="2725.9" r="5.3"/></g>
<g id="n408"><circle cx="232.7" cy="2705.6" r="5.3"/></g>
<g id="n409"><circle cx="232.7" cy="2725.9" r="5.3"/></g>
<g id="n410"><circle cx="223.3" cy="2746.2" r="5.3"/></g>
<g id="n411"><circle cx="223.3" cy="2766.4" r="5.3"/></g>
<g id="n412"><circle cx="223.3" cy="2786.7" r="5.3"/></g>
<g id="n413"><circle cx="223.3" cy="2807" r="5.3"/></g>
<g id="n414"><circle cx="223.3" cy="2827.3" r="5.3"/></g>
<g id="n415"><circle cx="223.3" cy="2847.5" r="5.3"/></g>
<g id="n416"><circle cx="256.7" cy="2746.2" r="5.3"/></g>
<g id="n417"><circle cx="256.7" cy="2766.4" r="5.3"/></g>
<g id="n418"><circle cx="299.3" cy="2624.6" r="5.3"/></g>
<g id="n419"><circle cx="299.3" cy="2644.8" r="5.3"/></g>
<g id="n420"><circle cx="299.3" cy="2665.1" r="5.3"/></g>
<g id="n421"><circle cx="299.3" cy="2685.4" r="5.3"/></g>
<g id="n422"><circle cx="299.3" cy="2705.6" r="5.3"/></g>
<g id="n423"><circle cx="299.3" cy="2725.9" r="5.3"/></g>
<g id="n424"><circle cx="299.3" cy="2746.2" r="5.3"/></g>
<g id="n425"><circle cx="299.3" cy="2766.4" r="5.3"/></g>
<g id="n426"><circle cx="299.3" cy="2786.7" r="5.3"/></g>
<g id="n427"><circle cx="299.3" cy="2807" r="5.3"/></g>
<g id="n428"><circle cx="256.7" cy="2827.3" r="5.3"/></g>
<g id="n429"><circle cx="256.7" cy="2847.5" r="5.3"/></g>
<g id="n430"><circle cx="223.3" cy="2867.8" r="5.3"/></g>
<g id="n431"><circle cx="223.3" cy="2888.1" r="5.3"/></g>
<g id="n432"><circle cx="256.7" cy="2867.8" r="5.3"/></g>
<g id="n433"><circle cx="256.7" cy="2888.1" r="5.3"/></g>
<g id="n434"><circle cx="256.7" cy="2908.3" r="5.3"/></g>
<g id="n435"><circle cx="256.7" cy="2928.6" r="5.3"/></g>
<g id="n436"><circle cx="223.3" cy="2948.9" r="5.3"/></g>
<g id="n437"><circle cx="223.3" cy="2969.1" r="5.3"/></g>
<g id="n438"><circle cx="223.3" cy="2989.4" r="5.3"/></g>
<g id="n439"><circle cx="223.3" cy="3009.7" r="5.3"/></g>
<g id="n440"><circle cx="223.3" cy="3029.9" r="5.3"/></g>
<g id="n441"><circle cx="223.3" cy="3050.2" r="5.3"/></g>
<g id="n442"><circle cx="190" cy="3070.5" r="5.3"/></g>
<g id="n443"><circle cx="190" cy="3090.7" r="5.3"/></g>
<g id="n444"><circle cx="223.3" cy="3070.5" r="5.3"/></g>
<g id="n445"><circle cx="223.3" cy="3090.7" r="5.3"/></g>
<g id="n446"><circle cx="190" cy="3111" r="5.3"/></g>
<g id="n447"><circle cx="190" cy="3131.3" r="5.3"/></g>
<g id="n448"><circle cx="156.7" cy="3151.5" r="5.3"/></g>
<g id="n449"><circle cx="156.7" cy="3171.8" r="5.3"/></g>
<g id="n450"><circle cx="190" cy="3151.5" r="5.3"/></g>
<g id="n451"><circle cx="190" cy="3171.8" r="5.3"/></g>
<g id="n452"><circle cx="190" cy="3192.1" r="5.3"/></g>
<g id="n453"><circle cx="190" cy="3212.3" r="5.3"/></g>
<g id="n454"><circle cx="156.7" cy="3192.1" r="5.3"/></g>
<g id="n455"><circle cx="156.7" cy="3212.3" r="5.3"/></g>
<g id="n456"><circle cx="140.7" cy="3232.6" r="5.3"/></g>
<g id="n457"><circle cx="140.7" cy="3252.9" r="5.3"/></g>
<g id="n458"><circle cx="107.3" cy="3273.1" r="5.3"/></g>
<g id="n459"><circle cx="107.3" cy="3293.4" r="5.3"/></g>
<g id="n460"><circle cx="140.7" cy="3273.1" r="5.3"/></g>
<g id="n461"><circle cx="140.7" cy="3293.4" r="5.3"/></g>
<g id="n462"><circle cx="140.7" cy="3313.7" r="5.3"/></g>
<g id="n463"><circle cx="140.7" cy="3334" r="5.3"/></g>
<g id="n464"><circle cx="140.7" cy="3354.2" r="5.3"/></g>
<g id="n465"><circle cx="140.7" cy="3374.5" r="5.3"/></g>
<g id="n466"><circle cx="124.7" cy="3394.8" r="5.3"/></g>
<g id="n467"><circle cx="124.7" cy="3415" r="5.3"/></g>
<g id="n468"><circle cx="158" cy="3394.8" r="5.3"/></g>
<g id="n469"><circle cx="158" cy="3415" r="5.3"/></g>
<g id="n470"><circle cx="158" cy="3435.3" r="5.3"/></g>
<g id="n471"><circle cx="158" cy="3455.6" r="5.3"/></g>
<g id="n472"><circle cx="158" cy="3475.8" r="5.3"/></g>
<g id="n473"><circle cx="158" cy="3496.1" r="5.3"/></g>
<g id="n474"><circle cx="174" cy="3232.6" r="5.3"/></g>
<g id="n475"><circle cx="174" cy="3252.9" r="5.3"/></g>
<g id="n476"><circle cx="174" cy="3273.1" r="5.3"/></g>
<g id="n477"><circle cx="174" cy="3293.4" r="5.3"/></g>
<g id="n478"><circle cx="223.3" cy="3111" r="5.3"/></g>
<g id="n479"><circle cx="223.3" cy="3131.3" r="5.3"/></g>
<g id="n480"><circle cx="223.3" cy="3151.5" r="5.3"/></g>
<g id="n481"><circle cx="223.3" cy="3171.8" r="5.3"/></g>
<g id="n482"><circle cx="223.3" cy="3192.1" r="5.3"/></g>
<g id="n483"><circle cx="223.3" cy="3212.3" r="5.3"/></g>
<g id="n484"><circle cx="256.7" cy="3192.1" r="5.3"/></g>
<g id="n485"><circle cx="256.7" cy="3212.3" r="5.3"/></g>
<g id="n486"><circle cx="256.7" cy="3232.6" r="5.3"/></g>
<g id="n487"><circle cx="256.7" cy="3252.9" r="5.3"/></g>
<g id="n488"><circle cx="256.7" cy="3273.1" r="5.3"/></g>
<g id="n489"><circle cx="256.7" cy="3293.4" r="5.3"/></g>
<g id="n490"><circle cx="256.7" cy="3313.7" r="5.3"/></g>
<g id="n491"><circle cx="256.7" cy="3334" r="5.3"/></g>
<g id="n492"><circle cx="256.7" cy="2948.9" r="5.3"/></g>
<g id="n493"><circle cx="256.7" cy="2969.1" r="5.3"/></g>
<g id="n494"><circle cx="256.7" cy="2989.4" r="5.3"/></g>
<g id="n495"><circle cx="256.7" cy="3009.7" r="5.3"/></g>
<g id="n496"><circle cx="290" cy="2827.3" r="5.3"/></g>
<g id="n497"><circle cx="290" cy="2847.5" r="5.3"/></g>
<g id="n498"><circle cx="290" cy="2867.8" r="5.3"/></g>
<g id="n499"><circle cx="290" cy="2888.1" r="5.3"/></g>
<g id="n500"><circle cx="290" cy="2908.3" r="5.3"/></g>
<g id="n501"><circle cx="290" cy="2928.6" r="5.3"/></g>
<g id="n502"><circle cx="290" cy="2948.9" r="5.3"/></g>
<g id="n503"><circle cx="290" cy="2969.1" r="5.3"/></g>
<g id="n504"><circle cx="290" cy="2989.4" r="5.3"/></g>
<g id="n505"><circle cx="290" cy="3009.7" r="5.3"/></g>
<g id="n506"><circle cx="290" cy="3029.9" r="5.3"/></g>
<g id="n507"><circle cx="290" cy="3050.2" r="5.3"/></g>
<g id="n508"><circle cx="323.3" cy="2989.4" r="5.3"/></g>
<g id="n509"><circle cx="323.3" cy="3009.7" r="5.3"/></g>
<g id="n510"><circle cx="323.3" cy="3029.9" r="5.3"/></g>
<g id="n511"><circle cx="323.3" cy="3050.2" r="5.3"/></g>
<g id="n512"><circle cx="356.7" cy="3029.9" r="5.3"/></g>
<g id="n513"><circle cx="356.7" cy="3050.2" r="5.3"/></g>
<g id="n514"><circle cx="323.3" cy="3070.5" r="5.3"/></g>
<g id="n515"><circle cx="323.3" cy="3090.7" r="5.3"/></g>
<g id="n516"><circle cx="356.7" cy="3070.5" r="5.3"/></g>
<g id="n517"><circle cx="356.7" cy="3090.7" r="5.3"/></g>
<g id="n518"><circle cx="290" cy="3111" r="5.3"/></g>
<g id="n519"><circle cx="290" cy="3131.3" r="5.3"/></g>
<g id="n520"><circle cx="290" cy="3151.5" r="5.3"/></g>
<g id="n521"><circle cx="290" cy="3171.8" r="5.3"/></g>
<g id="n522"><circle cx="290" cy="3192.1" r="5.3"/></g>
<g id="n523"><circle cx="290" cy="3212.3" r="5.3"/></g>
<g id="n524"><circle cx="290" cy="3232.6" r="5.3"/></g>
<g id="n525"><circle cx="290" cy="3252.9" r="5.3"/></g>
<g id="n526"><circle cx="323.3" cy="3232.6" r="5.3"/></g>
<g id="n527"><circle cx="323.3" cy="3252.9" r="5.3"/></g>
<g id="n528"><circle cx="306" cy="3273.1" r="5.3"/></g>
<g id="n529"><circle cx="306" cy="3293.4" r="5.3"/></g>
<g id="n530"><circle cx="306" cy="3313.7" r="5.3"/></g>
<g id="n531"><circle cx="306" cy="3334" r="5.3"/></g>
<g id="n532"><circle cx="339.3" cy="3273.1" r="5.3"/></g>
<g id="n533"><circle cx="339.3" cy="3293.4" r="5.3"/></g>
<g id="n534"><circle cx="339.3" cy="3313.7" r="5.3"/></g>
<g id="n535"><circle cx="339.3" cy="3334" r="5.3"/></g>
<g id="n536"><circle cx="372.7" cy="3313.7" r="5.3"/></g>
<g id="n537"><circle cx="372.7" cy="3334" r="5.3"/></g>
<g id="n538"><circle cx="355.3" cy="3354.2" r="5.3"/></g>
<g id="n539"><circle cx="355.3" cy="3374.5" r="5.3"/></g>
<g id="n540"><circle cx="355.3" cy="3394.8" r="5.3"/></g>
<g id="n541"><circle cx="355.3" cy="3415" r="5.3"/></g>
<g id="n542"><circle cx="338" cy="3435.3" r="5.3"/></g>
<g id="n543"><circle cx="338" cy="3455.6" r="5.3"/></g>
<g id="n544"><circle cx="338" cy="3475.8" r="5.3"/></g>
<g id="n545"><circle cx="338" cy="3496.1" r="5.3"/></g>
<g id="n546"><circle cx="338" cy="3516.4" r="5.3"/></g>
<g id="n547"><circle cx="338" cy="3536.6" r="5.3"/></g>
<g id="n548"><circle cx="338" cy="3556.9" r="5.3"/></g>
<g id="n549"><circle cx="338" cy="3577.2" r="5.3"/></g>
<g id="n550"><circle cx="338" cy="3597.4" r="5.3"/></g>
<g id="n551"><circle cx="338" cy="3617.7" r="5.3"/></g>
<g id="n552"><circle cx="338" cy="3638" r="5.3"/></g>
<g id="n553"><circle cx="338" cy="3658.2" r="5.3"/></g>
<g id="n554"><circle cx="338" cy="3678.5" r="5.3"/></g>
<g id="n555"><circle cx="338" cy="3698.8" r="5.3"/></g>
<g id="n556"><circle cx="288.7" cy="3719" r="5.3"/></g>
<g id="n557"><circle cx="279.3" cy="3739.3" r="5.3"/></g>
<g id="n558"><circle cx="238" cy="3759.6" r="5.3"/></g>
<g id="n559"><circle cx="238" cy="3779.8" r="5.3"/></g>
<g id="n560"><circle cx="204.7" cy="3800.1" r="5.3"/></g>
<g id="n561"><circle cx="204.7" cy="3820.4" r="5.3"/></g>
<g id="n562"><circle cx="188.7" cy="3840.7" r="5.3"/></g>
<g id="n563"><circle cx="188.7" cy="3860.9" r="5.3"/></g>
<g id="n564"><circle cx="222" cy="3840.7" r="5.3"/></g>
<g id="n565"><circle cx="222" cy="3860.9" r="5.3"/></g>
<g id="n566"><circle cx="206" cy="3881.2" r="5.3"/></g>
<g id="n567"><circle cx="206" cy="3901.5" r="5.3"/></g>
<g id="n568"><circle cx="206" cy="3921.7" r="5.3"/></g>
<g id="n569"><circle cx="206" cy="3942" r="5.3"/></g>
<g id="n570"><circle cx="239.3" cy="3881.2" r="5.3"/></g>
<g id="n571"><circle cx="239.3" cy="3901.5" r="5.3"/></g>
<g id="n572"><circle cx="238" cy="3800.1" r="5.3"/></g>
<g id="n573"><circle cx="238" cy="3820.4" r="5.3"/></g>
<g id="n574"><circle cx="271.3" cy="3759.6" r="5.3"/></g>
<g id="n575"><circle cx="271.3" cy="3779.8" r="5.3"/></g>
<g id="n576"><circle cx="304.7" cy="3759.6" r="5.3"/></g>
<g id="n577"><circle cx="304.7" cy="3779.8" r="5.3"/></g>
<g id="n578"><circle cx="271.3" cy="3800.1" r="5.3"/></g>
<g id="n579"><circle cx="271.3" cy="3820.4" r="5.3"/></g>
<g id="n580"><circle cx="304.7" cy="3800.1" r="5.3"/></g>
<g id="n581"><circle cx="304.7" cy="3820.4" r="5.3"/></g>
<g id="n582"><circle cx="304.7" cy="3840.7" r="5.3"/></g>
<g id="n583"><circle cx="304.7" cy="3860.9" r="5.3"/></g>
<g id="n584"><circle cx="304.7" cy="3881.2" r="5.3"/></g>
<g id="n585"><circle cx="304.7" cy="3901.5" r="5.3"/></g>
<g id="n586"><circle cx="304.7" cy="3921.7" r="5.3"/></g>
<g id="n587"><circle cx="304.7" cy="3942" r="5.3"/></g>
<g id="n588"><circle cx="338" cy="3719" r="5.3"/></g>
<g id="n589"><circle cx="338" cy="3739.3" r="5.3"/></g>
<g id="n590"><circle cx="371.3" cy="3759.6" r="5.3"/></g>
<g id="n591"><circle cx="371.3" cy="3779.8" r="5.3"/></g>
<g id="n592"><circle cx="338" cy="3759.6" r="5.3"/></g>
<g id="n593"><circle cx="338" cy="3779.8" r="5.3"/></g>
<g id="n594"><circle cx="338" cy="3800.1" r="5.3"/></g>
<g id="n595"><circle cx="338" cy="3820.4" r="5.3"/></g>
<g id="n596"><circle cx="338" cy="3840.7" r="5.3"/></g>
<g id="n597"><circle cx="338" cy="3860.9" r="5.3"/></g>
<g id="n598"><circle cx="371.3" cy="3800.1" r="5.3"/></g>
<g id="n599"><circle cx="371.3" cy="3820.4" r="5.3"/></g>
<g id="n600"><circle cx="371.3" cy="3435.3" r="5.3"/></g>
<g id="n601"><circle cx="371.3" cy="3455.6" r="5.3"/></g>
<g id="n602"><circle cx="388.7" cy="3354.2" r="5.3"/></g>
<g id="n603"><circle cx="388.7" cy="3374.5" r="5.3"/></g>
<g id="n604"><circle cx="388.7" cy="3394.8" r="5.3"/></g>
<g id="n605"><circle cx="388.7" cy="3415" r="5.3"/></g>
<g id="n606"><circle cx="422" cy="3394.8" r="5.3"/></g>
<g id="n607"><circle cx="422" cy="3415" r="5.3"/></g>
<g id="n608"><circle cx="404.7" cy="3435.3" r="5.3"/></g>
<g id="n609"><circle cx="404.7" cy="3455.6" r="5.3"/></g>
<g id="n610"><circle cx="404.7" cy="3475.8" r="5.3"/></g>
<g id="n611"><circle cx="404.7" cy="3496.1" r="5.3"/></g>
<g id="n612"><circle cx="404.7" cy="3516.4" r="5.3"/></g>
<g id="n613"><circle cx="404.7" cy="3536.6" r="5.3"/></g>
<g id="n614"><circle cx="404.7" cy="3556.9" r="5.3"/></g>
<g id="n615"><circle cx="404.7" cy="3577.2" r="5.3"/></g>
<g id="n616"><circle cx="404.7" cy="3597.4" r="5.3"/></g>
<g id="n617"><circle cx="404.7" cy="3617.7" r="5.3"/></g>
<g id="n618"><circle cx="404.7" cy="3638" r="5.3"/></g>
<g id="n619"><circle cx="404.7" cy="3658.2" r="5.3"/></g>
<g id="n620"><circle cx="404.7" cy="3678.5" r="5.3"/></g>
<g id="n621"><circle cx="404.7" cy="3698.8" r="5.3"/></g>
<g id="n622"><circle cx="404.7" cy="3719" r="5.3"/></g>
<g id="n623"><circle cx="404.7" cy="3739.3" r="5.3"/></g>
<g id="n624"><circle cx="404.7" cy="3759.6" r="5.3"/></g>
<g id="n625"><circle cx="404.7" cy="3779.8" r="5.3"/></g>
<g id="n626"><circle cx="371.3" cy="3556.9" r="5.3"/></g>
<g id="n627"><circle cx="371.3" cy="3577.2" r="5.3"/></g>
<g id="n628"><circle cx="438.3" cy="3435.3" r="5.3"/></g>
<g id="n629"><circle cx="438.3" cy="3455.6" r="5.3"/></g>
<g id="n630"><circle cx="438.3" cy="3475.8" r="5.3"/></g>
<g id="n631"><circle cx="438.3" cy="3496.1" r="5.3"/></g>
<g id="n632"><circle cx="438.3" cy="3516.4" r="5.3"/></g>
<g id="n633"><circle cx="438.3" cy="3536.6" r="5.3"/></g>
<g id="n634"><circle cx="438.3" cy="3556.9" r="5.3"/></g>
<g id="n635"><circle cx="438.3" cy="3577.2" r="5.3"/></g>
<g id="n636"><circle cx="438.3" cy="3597.4" r="5.3"/></g>
<g id="n637"><circle cx="438.3" cy="3617.7" r="5.3"/></g>
<g id="n638"><circle cx="438.3" cy="3638" r="5.3"/></g>
<g id="n639"><circle cx="438.3" cy="3658.2" r="5.3"/></g>
<g id="n640"><circle cx="471.3" cy="3678.5" r="5.3"/></g>
<g id="n641"><circle cx="471.3" cy="3698.8" r="5.3"/></g>
<g id="n642"><circle cx="471.3" cy="3719" r="5.3"/></g>
<g id="n643"><circle cx="471.3" cy="3739.3" r="5.3"/></g>
<g id="n644"><circle cx="438.3" cy="3678.5" r="5.3"/></g>
<g id="n645"><circle cx="438.3" cy="3698.8" r="5.3"/></g>
<g id="n646"><circle cx="438.3" cy="3719" r="5.3"/></g>
<g id="n647"><circle cx="438.3" cy="3739.3" r="5.3"/></g>
<g id="n648"><circle cx="471.3" cy="3759.6" r="5.3"/></g>
<g id="n649"><circle cx="471.3" cy="3779.8" r="5.3"/></g>
<g id="n650"><circle cx="471.3" cy="3800.1" r="5.3"/></g>
<g id="n651"><circle cx="471.3" cy="3820.4" r="5.3"/></g>
<g id="n652"><circle cx="471.3" cy="3840.7" r="5.3"/></g>
<g id="n653"><circle cx="471.3" cy="3860.9" r="5.3"/></g>
<g id="n654"><circle cx="438.3" cy="3759.6" r="5.3"/></g>
<g id="n655"><circle cx="438.3" cy="3779.8" r="5.3"/></g>
<g id="n656"><circle cx="404.7" cy="3800.1" r="5.3"/></g>
<g id="n657"><circle cx="404.7" cy="3820.4" r="5.3"/></g>
<g id="n658"><circle cx="438.3" cy="3800.1" r="5.3"/></g>
<g id="n659"><circle cx="438.3" cy="3820.4" r="5.3"/></g>
<g id="n660"><circle cx="438.3" cy="3840.7" r="5.3"/></g>
<g id="n661"><circle cx="438.3" cy="3860.9" r="5.3"/></g>
<g id="n662"><circle cx="404.7" cy="3840.7" r="5.3"/></g>
<g id="n663"><circle cx="404.7" cy="3860.9" r="5.3"/></g>
<g id="n664"><circle cx="387.3" cy="3881.2" r="5.3"/></g>
<g id="n665"><circle cx="387.3" cy="3901.5" r="5.3"/></g>
<g id="n666"><circle cx="387.3" cy="3921.7" r="5.3"/></g>
<g id="n667"><circle cx="387.3" cy="3942" r="5.3"/></g>
<g id="n668"><circle cx="420.7" cy="3881.2" r="5.3"/></g>
<g id="n669"><circle cx="420.7" cy="3901.5" r="5.3"/></g>
<g id="n670"><circle cx="323.3" cy="3111" r="5.3"/></g>
<g id="n671"><circle cx="323.3" cy="3131.3" r="5.3"/></g>
<g id="n672"><circle cx="323.3" cy="3151.5" r="5.3"/></g>
<g id="n673"><circle cx="323.3" cy="3171.8" r="5.3"/></g>
<g id="n674"><circle cx="356.7" cy="3111" r="5.3"/></g>
<g id="n675"><circle cx="356.7" cy="3131.3" r="5.3"/></g>
<g id="n676"><circle cx="390" cy="3070.5" r="5.3"/></g>
<g id="n677"><circle cx="390" cy="3090.7" r="5.3"/></g>
<g id="n678"><circle cx="390" cy="3111" r="5.3"/></g>
<g id="n679"><circle cx="390" cy="3131.3" r="5.3"/></g>
<g id="n680"><circle cx="390" cy="3151.5" r="5.3"/></g>
<g id="n681"><circle cx="390" cy="3171.8" r="5.3"/></g>
<g id="n682"><circle cx="423.3" cy="3111" r="5.3"/></g>
<g id="n683"><circle cx="423.3" cy="3131.3" r="5.3"/></g>
<g id="n684"><circle cx="323.3" cy="2827.3" r="5.3"/></g>
<g id="n685"><circle cx="323.3" cy="2847.5" r="5.3"/></g>
<g id="n686"><circle cx="332.5" cy="2665.1" r="5.3"/></g>
<g id="n687"><circle cx="332.5" cy="2685.4" r="5.3"/></g>
<g id="n688"><circle cx="332.5" cy="2705.6" r="5.3"/></g>
<g id="n689"><circle cx="332.5" cy="2725.9" r="5.3"/></g>
<g id="n690"><circle cx="332.5" cy="2746.2" r="5.3"/></g>
<g id="n691"><circle cx="332.5" cy="2766.4" r="5.3"/></g>
<g id="n692"><circle cx="332.5" cy="2786.7" r="5.3"/></g>
<g id="n693"><circle cx="348.3" cy="2807" r="5.3"/></g>
<g id="n694"><circle cx="357.7" cy="2827.3" r="5.3"/></g>
<g id="n695"><circle cx="359" cy="2847.5" r="5.3"/></g>
<g id="n696"><circle cx="359" cy="2867.8" r="5.3"/></g>
<g id="n697"><circle cx="359" cy="2888.1" r="5.3"/></g>
<g id="n698"><circle cx="400.7" cy="2867.8" r="5.3"/></g>
<g id="n699"><circle cx="404.5" cy="2888.1" r="5.3"/></g>
<g id="n700"><circle cx="438.3" cy="2908.3" r="5.3"/></g>
<g id="n701"><circle cx="438.3" cy="2928.6" r="5.3"/></g>
<g id="n702"><circle cx="404.5" cy="2908.3" r="5.3"/></g>
<g id="n703"><circle cx="404.5" cy="2928.6" r="5.3"/></g>
<g id="n704"><circle cx="405.7" cy="2948.9" r="5.3"/></g>
<g id="n705"><circle cx="405.7" cy="2969.1" r="5.3"/></g>
<g id="n706"><circle cx="422" cy="2989.4" r="5.3"/></g>
<g id="n707"><circle cx="430" cy="3009.7" r="5.3"/></g>
<g id="n708"><circle cx="463.3" cy="3029.9" r="5.3"/></g>
<g id="n709"><circle cx="463.3" cy="3050.2" r="5.3"/></g>
<g id="n710"><circle cx="430" cy="3029.9" r="5.3"/></g>
<g id="n711"><circle cx="430" cy="3050.2" r="5.3"/></g>
<g id="n712"><circle cx="439.3" cy="3070.5" r="5.3"/></g>
<g id="n713"><circle cx="447.3" cy="3090.7" r="5.3"/></g>
<g id="n714"><circle cx="456.7" cy="3111" r="5.3"/></g>
<g id="n715"><circle cx="456.7" cy="3131.3" r="5.3"/></g>
<g id="n716"><circle cx="456.7" cy="3151.5" r="5.3"/></g>
<g id="n717"><circle cx="456.7" cy="3171.8" r="5.3"/></g>
<g id="n718"><circle cx="456.7" cy="3192.1" r="5.3"/></g>
<g id="n719"><circle cx="456.7" cy="3212.3" r="5.3"/></g>
<g id="n720"><circle cx="456.7" cy="3232.6" r="5.3"/></g>
<g id="n721"><circle cx="456.7" cy="3252.9" r="5.3"/></g>
</g>
</svg>
